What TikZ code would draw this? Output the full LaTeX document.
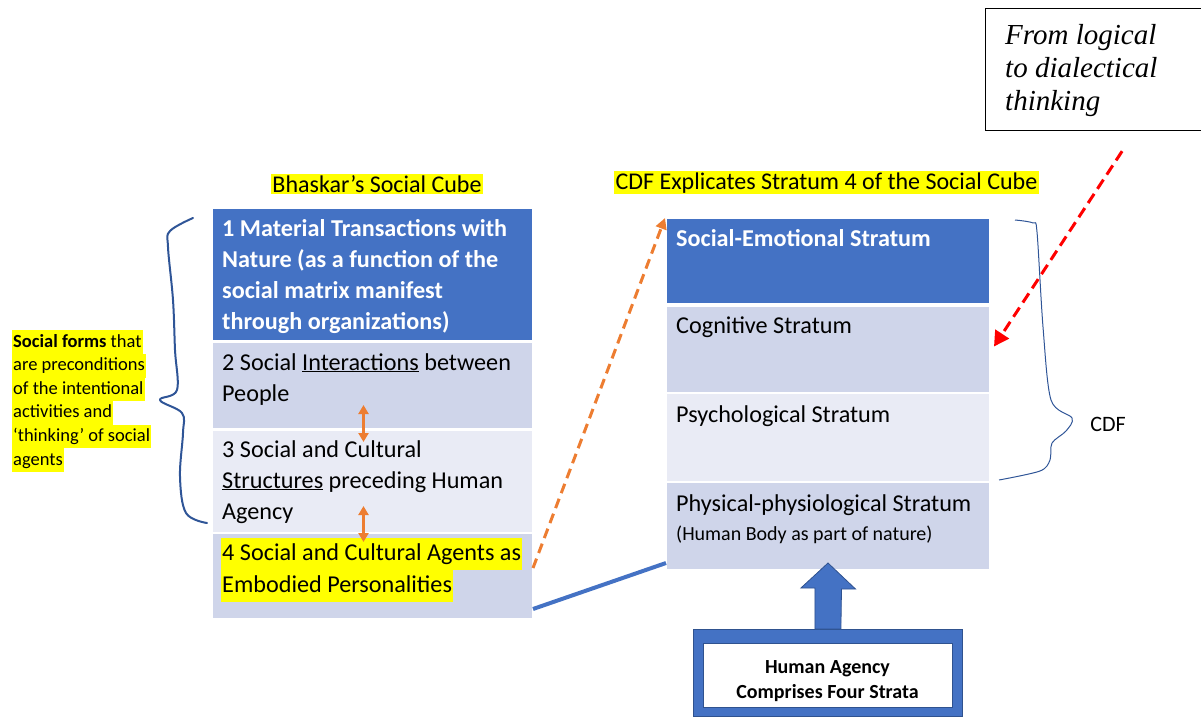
\documentclass[tikz,border=0pt]{standalone}
\usepackage{fontspec}
\setmainfont{Carlito}
\newfontfamily\timesfont{Liberation Serif}
\usepackage{tikz}
\usetikzlibrary{arrows.meta}

\definecolor{boxdark}{HTML}{4472C4}
\definecolor{boxmid}{HTML}{CFD5EA}
\definecolor{boxpale}{HTML}{E9EBF5}
\definecolor{boxedge}{HTML}{2F528F}
\definecolor{bracecol}{HTML}{2F5597}
\definecolor{arrorange}{HTML}{ED7D31}
\definecolor{hlyellow}{HTML}{FFFF00}

\setlength{\fboxsep}{0pt}
\newcommand{\hlline}[1]{\colorbox{hlyellow}{\kern1pt\strut#1\kern1pt}}
% lines stacked from the baseline of the first one
\newcommand{\leftlines}[1]{\vtop{\let\\\cr\halign{##\hfil\cr#1\crcr}}}
\newcommand{\midlines}[1]{\vtop{\let\\\cr\halign{\hfil##\hfil\cr#1\crcr}}}

\tikzstyle{stratum} = [rectangle, draw=white, line width=1pt, inner sep=0pt, anchor=north west]
\tikzstyle{darkbox} = [stratum, fill=boxdark]
\tikzstyle{midbox} = [stratum, fill=boxmid]
\tikzstyle{palebox} = [stratum, fill=boxpale]
\tikzstyle{boxtext} = [anchor=base west, inner sep=0pt, font=\fontsize{24.2}{31}\selectfont]
\tikzstyle{heading} = [anchor=base, fill=hlyellow, inner sep=1.5pt, font=\fontsize{24}{29}\selectfont]
\tikzstyle{orangedash} = [arrorange, line width=3pt, dash pattern=on 10pt off 6pt, -{Triangle[length=11pt,width=11pt]}]
\tikzstyle{orangeboth} = [arrorange, line width=2.5pt, {Triangle[length=9pt,width=10pt]}-{Triangle[length=9pt,width=10pt]}]
\tikzstyle{reddash} = [red, line width=3pt, dash pattern=on 11pt off 6pt, -{Triangle[length=15pt,width=16pt]}]

\begin{document}
\begin{tikzpicture}[x=1pt,y=-1pt]
\useasboundingbox (0,0) rectangle (1201,717);

% Bhaskar's cube, four strata
\node [darkbox, minimum width=320pt, minimum height=132pt] (b1) at (212,208) {};
\node [midbox, minimum width=320pt, minimum height=86pt] (b2) at (212,342) {};
\node [palebox, minimum width=320pt, minimum height=102pt] (b3) at (212,430) {};
\node [midbox, minimum width=320pt, minimum height=85pt] (b4) at (212,533) {};

\node [heading] (cubetitle) at (377,192) {Bhaskar’s Social Cube};
\node [boxtext, text=white, font=\fontsize{24.2}{31}\selectfont\bfseries] (t1) at (222,236)
	{\leftlines{1 Material Transactions with\\Nature (as a function of the\\social matrix manifest\\through organizations)}};
\node [boxtext] (t2) at (222,370) {\leftlines{2 Social \underline{Interactions} between\\People}};
\node [boxtext] (t3) at (222,457) {\leftlines{3 Social and Cultural\\\underline{Structures} preceding Human\\Agency}};
\node [boxtext, font=\fontsize{24.2}{32}\selectfont] (t4) at (221,560)
	{\leftlines{\hlline{4 Social and Cultural Agents as}\\\hlline{Embodied Personalities}}};

\draw [orangeboth] ([xshift=-9pt,yshift=24pt]b2.south) -- ([xshift=-9pt,yshift=-12pt]b3.north);
\draw [orangeboth] ([xshift=-9pt,yshift=27pt]b3.south) -- ([xshift=-9pt,yshift=-9pt]b4.north);

% left brace and note
\draw [bracecol, line width=2pt, line cap=round, line join=round] plot [smooth, tension=0.6] coordinates
	{(193,218) (170,231) (168,247) (173,300) (175,350) (177,390) (160,400)
	 (182,413) (183,433) (180,477) (186,513) (207,523)};
\node [anchor=base west, inner sep=0pt, font=\fontsize{18.5}{23.6}\selectfont] (forms) at (12,347)
	{\leftlines{\hlline{\textbf{Social forms} that}\\\hlline{are preconditions}\\\hlline{of the intentional}\\
	 \hlline{activities and}\\\hlline{‘thinking’ of social}\\\hlline{agents}}};

% CDF strata
\node [darkbox, minimum width=323pt, minimum height=85pt] (r1) at (666,218) {};
\node [midbox, minimum width=323pt, minimum height=86pt] (r2) at (666,306) {};
\node [palebox, minimum width=323pt, minimum height=88pt] (r3) at (666,393) {};
\node [midbox, minimum width=323pt, minimum height=87pt] (r4) at (666,482) {};

\node [heading] (cdftitle) at (826.5,189) {CDF Explicates Stratum 4 of the Social Cube};
\node [boxtext, text=white, font=\fontsize{24.2}{31}\selectfont\bfseries] (s1) at (676,246) {Social-Emotional Stratum};
\node [boxtext] (s2) at (676,333) {Cognitive Stratum};
\node [boxtext] (s3) at (676,422) {Psychological Stratum};
\node [boxtext, font=\fontsize{24.2}{29}\selectfont] (s4) at (676,511)
	{\leftlines{Physical-physiological Stratum\\{\fontsize{20}{29}\selectfont (Human Body as part of nature)}}};

% right brace
\draw [bracecol, line width=1pt, line join=round] plot [smooth, tension=0.5] coordinates
	{(1015,220) (1033,223) (1037,232) (1043,327) (1051,400) (1072,418) (1066,431)
	 (1052,443) (1050,460) (1040,471) (999,480)};
\node [font=\fontsize{22}{26}\selectfont] (cdf) at (1108,424) {CDF};

% links between the two cubes
\draw [orangedash] ([yshift=8pt]b4.east) -- ([xshift=-1pt]r1.north west);
\draw [boxdark, line width=4pt] ([yshift=10pt]b4.south east) -- ([yshift=7pt]r4.south west);

% thinking box
\node [draw=black, line width=1.2pt, minimum width=225pt, minimum height=122pt, anchor=north west] (think) at (985,8) {};
\node [anchor=base west, inner sep=0pt, font=\timesfont\itshape\fontsize{29}{33}\selectfont] (thinktxt) at (1005,45)
	{\leftlines{From logical\\to dialectical\\thinking}};
\draw [reddash] ([xshift=24pt,yshift=-20pt]think.south) -- ([xshift=4pt,yshift=3pt]r2.east);

% human agency
\node [fill=boxdark, draw=boxedge, line width=0.8pt, minimum width=269pt, minimum height=87pt, anchor=north west] (agency) at (693,629) {};
\node [fill=white, draw=boxedge, line width=0.8pt, minimum width=249pt, minimum height=64pt, anchor=north west] (agencyin) at (703,643) {};
\node [anchor=base, inner sep=0pt, font=\fontsize{20}{25}\selectfont\bfseries] (agencytxt) at (827.5,673)
	{\midlines{Human Agency\\Comprises Four Strata}};
\draw [fill=boxdark, draw=boxedge, line width=0.8pt] ([xshift=-13pt]agency.north) -- ++(0,-41) -- ++(-14,0)
	-- ([yshift=7pt]r4.south) -- ++(27.5,26) -- ++(-14,0) -- ([xshift=13pt]agency.north) -- cycle;

\end{tikzpicture}
\end{document}
